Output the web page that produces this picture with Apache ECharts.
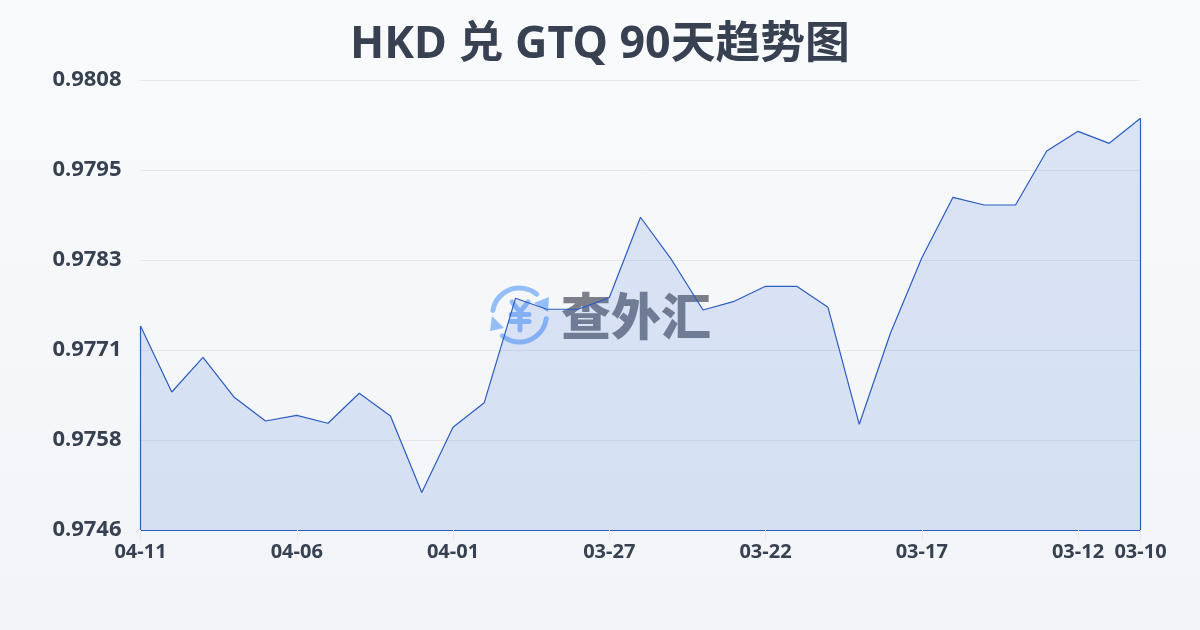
<!DOCTYPE html>
<html>
<head>
<meta charset="utf-8">
<style>html,body{margin:0;padding:0;width:1200px;height:630px;overflow:hidden}#c{width:1200px;height:630px}</style>
<script src="https://cdn.jsdelivr.net/npm/echarts@6/dist/echarts.min.js"></script>
</head>
<body>
<div id="c"></div>
<script>
const titleText = 'HKD 兑 GTQ 90天趋势图';
const brandText = '查外汇';
const dates = ['04-11','04-10','04-09','04-08','04-07','04-06','04-05','04-04','04-03','04-02','04-01',
  '03-31','03-30','03-29','03-28','03-27','03-26','03-25','03-24','03-23','03-22','03-21','03-20','03-19','03-18','03-17','03-16','03-15','03-14','03-13','03-12','03-11','03-10'];
const rates = [0.977389,0.976487,0.976961,0.976414,0.976090,0.976168,0.976059,0.976469,0.976159,0.975113,0.976004,
  0.976341,0.977768,0.977618,0.977618,0.977776,0.978876,0.978292,0.977608,0.977727,0.977932,0.977932,0.977645,0.976045,0.977294,0.978319,0.979149,0.979044,0.979044,0.979782,0.980051,0.979887,0.980229];
const axisMin = 0.9746;
const axisStep = axisMin / 792;
const axisMax = axisMin + 5 * axisStep;
const labelEvery = 5;

const lineColor = '#2b5cc0';
const gridColor = '#e5e7eb';
const textColor = '#374151';
const iconColor = '#60a0fa';
const fontLatin = '"Noto Sans","Noto Sans CJK SC",sans-serif';
const showDate = i => i % labelEvery === 0 || i === dates.length - 1;
const edge = (d, v) => [{xAxis: d, yAxis: axisMin}, {xAxis: d, yAxis: v}];

const chart = echarts.init(document.getElementById('c'), null, {renderer: 'canvas'});
chart.setOption({
  animation: false,
  backgroundColor: new echarts.graphic.LinearGradient(0, 0, 0, 1, [
    {offset: 0, color: '#f9fafc'}, {offset: 1, color: '#f3f4f7'}
  ]),
  title: {
    text: titleText, left: 'center', top: 18,
    textStyle: {fontFamily: fontLatin, fontSize: 44.8, fontWeight: 'bold', color: textColor}
  },
  grid: {left: 140.5, right: 59.5, top: 80, bottom: 100, containLabel: false},
  xAxis: {
    type: 'category', data: dates, boundaryGap: false,
    axisLine: {show: true, lineStyle: {color: lineColor, width: 1.2}},
    axisTick: {show: true, length: 10, interval: showDate, lineStyle: {color: gridColor}},
    axisLabel: {interval: showDate, margin: 12, hideOverlap: false, fontFamily: fontLatin, fontSize: 20, fontWeight: 'bold', color: textColor},
    splitLine: {show: false}
  },
  yAxis: {
    type: 'value', min: axisMin, max: axisMax, interval: axisStep,
    axisLine: {show: false}, axisTick: {show: false},
    axisLabel: {margin: 19, fontFamily: fontLatin, fontSize: 22, fontWeight: 'bold', color: textColor,
      verticalAlignMinLabel: 'middle', verticalAlignMaxLabel: 'middle',
      formatter: v => v.toFixed(4), padding: [0, 0, 4, 0]},
    splitLine: {show: true, lineStyle: {color: gridColor, width: 1}}
  },
  graphic: [{
    type: 'group', z: 20, silent: true,
    children: [
      {type: 'arc', shape: {cx: 519.5, cy: 315, r: 27, startAngle: Math.PI * 1.055, endAngle: Math.PI * 1.72},
        style: {stroke: iconColor, fill: null, lineWidth: 5, lineCap: 'round', opacity: 0.65}},
      {type: 'arc', shape: {cx: 519.5, cy: 315, r: 27, startAngle: Math.PI * 0.044, endAngle: Math.PI * 0.72},
        style: {stroke: iconColor, fill: null, lineWidth: 5, lineCap: 'round', opacity: 0.65}},
      {type: 'polyline', shape: {points: [[512, 302], [520, 312], [528, 302], [520, 312], [520, 314.5], [511, 314.5], [529, 314.5], [520, 314.5], [520, 321.5], [511, 321.5], [529, 321.5], [520, 321.5], [520, 330]]},
        style: {stroke: iconColor, fill: null, lineWidth: 5, lineCap: 'round', lineJoin: 'round', opacity: 0.65}},
      {type: 'polygon', shape: {points: [[549, 297], [548, 312], [534, 303]]}, style: {fill: iconColor, opacity: 0.65}},
      {type: 'polygon', shape: {points: [[492, 316], [490, 331], [504, 328]]}, style: {fill: iconColor, opacity: 0.65}},
      {type: 'text', x: 636, y: 316, style: {text: brandText, fill: '#3a3f4e', opacity: 0.65, align: 'center', verticalAlign: 'middle',
        font: '900 50px "Noto Sans CJK SC"'}}
    ]
  }],
  series: [{
    type: 'line', data: rates, showSymbol: false, smooth: false, z: 2,
    lineStyle: {color: lineColor, width: 1.2},
    areaStyle: {color: 'rgba(46,107,217,0.15)', opacity: 1, origin: 'start'},
    markLine: {
      silent: true, symbol: 'none', label: {show: false}, animation: false,
      lineStyle: {color: lineColor, width: 1.2, type: 'solid'},
      emphasis: {disabled: true},
      data: [edge(dates[0], rates[0]), edge(dates[dates.length - 1], rates[rates.length - 1])]
    }
  }]
});
</script>
</body>
</html>
